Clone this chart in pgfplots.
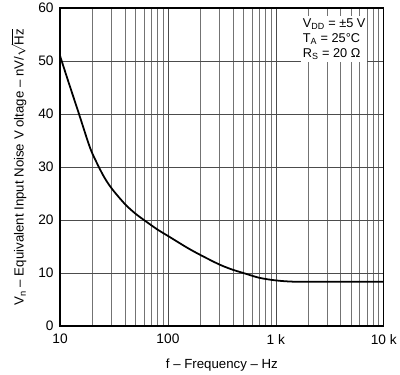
\documentclass[border=0pt]{standalone}
\usepackage{pgfplots}
\pgfplotsset{compat=1.18}
\usepackage{fontspec}
\setmainfont{Liberation Sans}
\begin{document}
\begin{tikzpicture}
\begin{axis}[
  name=ax,
  width=329bp, height=323bp, scale only axis,
  xmode=log, xmin=10, xmax=10000, ymin=0, ymax=60,
  xtick={10,100,1000,10000}, xticklabels={10,100,1 k,10 k},
  ytick={0,10,20,30,40,50,60},
  /pgf/number format/assume math mode=true,
  grid=both,
  major grid style={draw=black!70, line width=0.7pt},
  minor grid style={draw=black!55, line width=0.7pt},
  major tick length=0pt, minor tick length=0pt,
  axis line style={line width=1.3pt},
  tick label style={font=\fontsize{14}{15}\selectfont},
  yticklabel style={xshift=-3bp},
  xticklabel style={yshift=-5bp},
  xlabel={f -- Frequency -- Hz},
  ylabel={V\textsubscript{n} -- Equivalent Input Noise V oltage -- nV/\(\sqrt{\mbox{Hz}}\)},
  every axis x label/.style={at={(axis description cs:0.5,0)}, yshift=-40bp, anchor=center, font=\fontsize{13.5}{15}\selectfont},
  every axis y label/.style={at={(axis description cs:0,0.5)}, xshift=-42bp, rotate=90, anchor=center, font=\fontsize{13.5}{15}\selectfont},
]
\addplot[black, line width=1.8pt, smooth] coordinates {
(10,51) (12,46) (15,40) (18,35) (20,32.5) (25,28.5) (30,26) (40,23) (50,21.2) (60,20) (80,18.2) (100,17) (150,14.8) (200,13.4) (300,11.6) (400,10.6) (500,10) (700,9.1) (1000,8.6) (1500,8.35) (3000,8.35) (10000,8.35)
};
\node[fill=white, anchor=north west, align=left, inner sep=2bp,
  font=\fontsize{13}{15.5}\selectfont] at (axis cs:1700,58.5)
  {V\textsubscript{DD} = ±5 V\\T\textsubscript{A} = 25°C\\R\textsubscript{S} = 20 Ω};
\end{axis}
\path ([xshift=-61bp]ax.south west) rectangle ([xshift=-60bp]ax.south west);
\end{tikzpicture}
\end{document}
